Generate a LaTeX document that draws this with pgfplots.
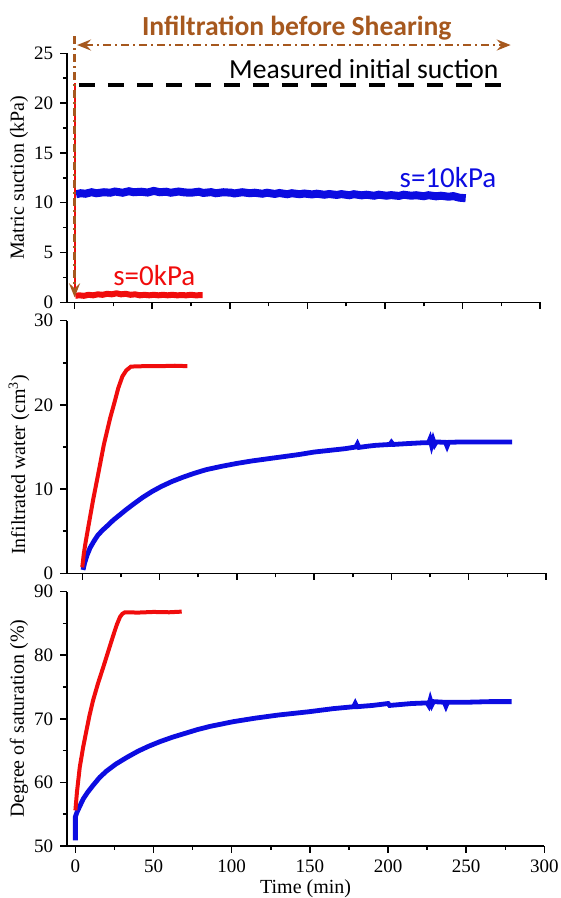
\documentclass[border=0pt]{standalone}
\usepackage{pgfplots}
\pgfplotsset{compat=1.18}
\usepackage{fontspec}
\setmainfont{Liberation Serif}
\newfontfamily\calfont{Carlito}
\usetikzlibrary{arrows.meta}
\definecolor{cred}{RGB}{240,12,12}
\definecolor{cblue}{RGB}{12,12,225}
\definecolor{cbrown}{RGB}{166,88,30}
\pgfplotsset{
  panel/.style={
    scale only axis,
    axis x line=bottom, axis y line=left,
    axis line style={-, line width=0.75pt},
    tick align=outside,
    major tick length=3.3pt, minor tick length=2pt,
    every tick/.style={line width=0.75pt, black},
    xmax=300, xtick={0,50,...,300}, minor x tick num=1, minor y tick num=1,
    /pgf/number format/assume math mode=true,
    tick label style={font=\rmfamily\fontsize{9.5}{11}\selectfont},
    label style={font=\rmfamily\fontsize{10}{12}\selectfont},
    clip=false,
  }
}
\begin{document}
\begin{tikzpicture}
\path[use as bounding box] (0,0) rectangle (280.5pt,449pt);
% ---------------- top panel
\begin{axis}[panel, at={(33.4pt,297.85pt)}, anchor=south west,
  width=236.7pt, height=124.5pt, xmin=-5, ymin=0, ymax=25,
  ytick={0,5,...,25}, xticklabels={},
  ylabel={Matric suction (kPa)},
  ylabel style={at={(axis description cs:-0.101,0.5)}, anchor=center}]
\addplot[cblue, line width=1pt] coordinates {(0.2,22) (0.2,11)};
\addplot[cblue, line width=4pt] coordinates {
(1,10.85) (4,10.95) (7,10.9) (11,11.05) (14,10.95) (19,11.05) (23,11.0) (26,11.12) (31,11.0) (35,11.15)
(38,11.05) (43,11.1) (47,11.02) (51,11.18) (55,11.05) (59,11.1) (62,11.0) (67,11.12) (71,11.03) (75,11.0)
(80,11.1) (83,10.98) (88,11.06) (91,10.95) (96,11.05) (101,11.0) (103,10.93) (108,11.05) (113,10.95) (116,11.0)
(121,10.9) (124,11.0) (129,10.88) (132,10.97) (137,10.85) (140,10.95) (145,10.85) (148,10.92) (153,10.83) (156,10.9)
(161,10.8) (164,10.87) (169,10.78) (172,10.86) (177,10.75) (180,10.85) (185,10.74) (188,10.8) (193,10.7) (196,10.8)
(201,10.7) (204,10.76) (209,10.68) (212,10.8) (217,10.7) (220,10.75) (225,10.65) (228,10.75) (233,10.64) (236,10.7)
(241,10.6) (244,10.66) (248,10.5) (252,10.45)};
\addplot[cred, line width=1pt] coordinates {(0,22) (0,0.8)};
\addplot[cred, line width=3pt] coordinates {
(0.5,0.65) (3,0.7) (6,0.65) (9,0.75) (12,0.7) (15,0.8) (18,0.75) (21,0.85) (24,0.8) (27,0.9)
(30,0.8) (33,0.85) (36,0.75) (39,0.8) (42,0.7) (45,0.75) (48,0.7) (51,0.75) (54,0.7) (57,0.75)
(60,0.7) (63,0.75) (66,0.7) (69,0.72) (72,0.7) (75,0.75) (78,0.7) (82.5,0.72)};
\addplot[black, line width=2.3pt, dash pattern=on 8pt off 6.5pt] coordinates {(2.8,21.8) (280,21.8)};
\draw[cbrown, line width=1.1pt, dash pattern=on 4pt off 2pt on 1pt off 2pt,
  {Stealth[length=7pt,width=5.5pt,inset=2.5pt]}-{Stealth[length=7pt,width=5.5pt,inset=2.5pt]}]
  (axis cs:1.6,25.83) -- (axis cs:281,25.83);
\draw[cbrown, line width=1.1pt, dash pattern=on 4pt off 2pt on 1pt off 2pt,
  -{Stealth[length=7pt,width=5.5pt,inset=2.5pt]}]
  (axis cs:0,26.7) -- (axis cs:0,0.5);
\node[cbrown, font=\calfont\bfseries\fontsize{13.8}{15}\selectfont] at (axis cs:143.2,27.5) {Infiltration before Shearing};
\node[black, font=\calfont\fontsize{13.8}{15}\selectfont] at (axis cs:186.4,23.4) {Measured initial suction};
\node[cblue, font=\calfont\fontsize{14.5}{16}\selectfont] at (axis cs:240.6,12.48) {s=10kPa};
\node[cred, font=\calfont\fontsize{14.5}{16}\selectfont] at (axis cs:51.4,2.64) {s=0kPa};
\end{axis}
% ---------------- middle panel
\begin{axis}[panel, at={(33.4pt,162.35pt)}, anchor=south west,
  width=239.6pt, height=126.3pt, xmin=-10, ymin=0, ymax=30,
  ytick={0,10,20,30}, xticklabels={},
  ylabel={Infiltrated water (cm\textsuperscript{3})},
  ylabel style={at={(axis description cs:-0.1,0.43)}, anchor=center}]
\addplot[cblue, line width=2.4pt] coordinates {
(0.5,0.4) (1.5,1.2) (3,2.1) (5,3.0) (7.5,3.8) (10,4.5) (13,5.1) (16,5.6) (20,6.3) (24,6.9)
(28,7.5) (33,8.2) (39,9.0) (45,9.7) (51,10.3) (58,10.9) (65,11.4) (72,11.85) (80,12.3) (90,12.7)
(100,13.05) (110,13.35) (120,13.6) (130,13.85) (140,14.1) (150,14.4) (160,14.6) (170,14.8) (177,15.0) (178,15.35)
(179,14.95) (185,15.1) (190,15.2) (199,15.3) (200,15.55) (201,15.3) (210,15.4) (220,15.5) (224,15.5) (225,15.95)
(226,15.2) (227,15.85) (228,15.3) (229,15.6) (235,15.55) (236,15.1) (237,15.55) (245,15.6) (255,15.6) (265,15.6) (278,15.6)};
\addplot[cred, line width=2pt] coordinates {
(0,0.7) (1,2.3) (2,3.5) (4,5.6) (7,8.7) (10,11.5) (14,15.3) (18,18.4) (21,20.4) (23.3,22.0)
(26,23.4) (28.5,24.1) (31.5,24.55) (40,24.6) (50,24.6) (60,24.65) (68,24.6)};
\end{axis}
% ---------------- bottom panel
\begin{axis}[panel, at={(33.4pt,26pt)}, anchor=south west,
  width=238.8pt, height=127.2pt, xmin=-5.5, ymin=50, ymax=90,
  ytick={50,60,...,90},
  xlabel={Time (min)}, xlabel style={yshift=3.5pt},
  ylabel={Degree of saturation (\%)},
  ylabel style={at={(axis description cs:-0.1,0.5)}, anchor=center}]
\addplot[cblue, line width=2.4pt] coordinates {
(0,50.9) (0,54.6) (1,55.3) (2.5,56.1) (5,57.4) (8,58.5) (11.5,59.6) (15.6,60.8) (20,61.8) (26,62.9)
(32.7,63.9) (40,64.9) (47,65.7) (54,66.4) (62,67.1) (70,67.7) (78,68.3) (86,68.8) (94,69.2) (101,69.55)
(115,70.1) (130,70.6) (149,71.1) (165,71.6) (178,71.9) (179,72.4) (180,71.9) (190,72.1) (200,72.4) (201,72.1) (215,72.4)
(225,72.5) (226,72.1) (227,73.0) (228,72.2) (229,72.7) (236,72.6) (237,72.0) (238,72.6) (250,72.6) (265,72.7) (279,72.7)};
\addplot[cred, line width=2pt] coordinates {
(0,55.6) (1,58.5) (2.8,62.4) (5,65.6) (7.1,68.2) (9,70.5) (11.3,72.9) (14.5,75.6) (17.8,78.1) (21,80.6)
(24.2,83.1) (26.5,84.8) (28.5,86.0) (30,86.5) (31.7,86.75) (40,86.7) (50,86.8) (60,86.75) (68,86.85)};
\end{axis}
\end{tikzpicture}
\end{document}
